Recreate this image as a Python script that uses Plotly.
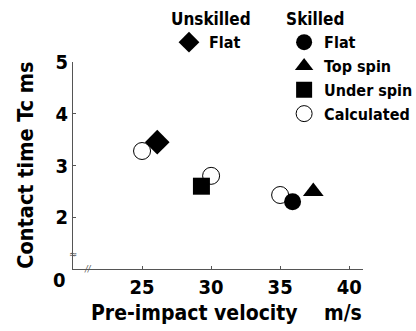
import plotly.graph_objects as go

FONT = "DejaVu Sans Condensed, Liberation Sans Narrow, Arial Narrow, sans-serif"

# data
calc_x = [25.0, 30.0, 35.0]
calc_y = [3.28, 2.80, 2.43]
unskilled_flat_x = [26.1]
unskilled_flat_y = [3.45]
skilled_flat_x = [35.9]
skilled_flat_y = [2.30]
top_spin_x = [37.4]
top_spin_y = [2.50]
under_spin_x = [29.3]
under_spin_y = [2.60]

x_ticks = [25, 30, 35, 40]
y_ticks = [2, 3, 4, 5]

fig = go.Figure()

fig.add_trace(go.Scatter(
    x=calc_x, y=calc_y, mode="markers", name="Calculated", legend="legend2", legendrank=4,
    showlegend=True,
    marker=dict(symbol="circle", size=17, color="white", line=dict(color="black", width=1))))
fig.add_trace(go.Scatter(
    x=unskilled_flat_x, y=unskilled_flat_y, mode="markers", name="Flat", legend="legend",
    showlegend=True,
    marker=dict(symbol="diamond", size=19, color="black")))
fig.add_trace(go.Scatter(
    x=under_spin_x, y=under_spin_y, mode="markers", name="Under spin", legend="legend2", legendrank=3,
    showlegend=True,
    marker=dict(symbol="square", size=17, color="black")))
fig.add_trace(go.Scatter(
    x=skilled_flat_x, y=skilled_flat_y, mode="markers", name="Flat", legend="legend2", legendrank=1,
    showlegend=True,
    marker=dict(symbol="circle", size=17, color="black")))
fig.add_trace(go.Scatter(
    x=top_spin_x, y=top_spin_y, mode="markers", name="Top spin", legend="legend2", legendrank=2,
    showlegend=True,
    marker=dict(symbol="triangle-up", size=18, color="black")))

axis_common = dict(showgrid=False, zeroline=False, showline=True, linecolor="#555", linewidth=1,
                   ticks="inside", ticklen=3, tickcolor="#555",
                   tickfont=dict(family=FONT, size=20, color="black", weight="bold"))

LEG_FONT = dict(family=FONT, size=16, weight="bold", color="black")
TITLE_FONT = dict(family=FONT, size=17, weight="bold", color="black")

fig.update_layout(
    width=416, height=331,
    margin=dict(l=73, r=53, t=62, b=62, autoexpand=False),
    paper_bgcolor="white", plot_bgcolor="white",
    font=dict(family=FONT, color="black"),
    showlegend=True,
    xaxis=dict(range=[20, 41], tickvals=x_ticks, **axis_common),
    yaxis=dict(range=[1, 5], tickvals=y_ticks, **axis_common),
    legend=dict(title=dict(text="Unskilled", font=TITLE_FONT),
                x=0.331, y=1.284, xanchor="left", yanchor="top",
                font=LEG_FONT, bgcolor="rgba(0,0,0,0)"),
    legend2=dict(title=dict(text="Skilled", font=TITLE_FONT),
                 x=0.728, y=1.284, xanchor="left", yanchor="top",
                 font=LEG_FONT, bgcolor="rgba(0,0,0,0)"),
    annotations=[
        dict(text="Contact time Tc ms", xref="paper", yref="paper", x=-0.165, y=0.5,
             xanchor="center", yanchor="middle",
             textangle=-90, showarrow=False, font=dict(family=FONT, size=21.5, weight="bold")),
        dict(text="Pre-impact velocity\u00a0\u00a0\u00a0\u00a0m/s", xref="paper", yref="paper",
             x=0.528, y=-0.213, xanchor="center", yanchor="middle",
             showarrow=False, font=dict(family=FONT, size=21, weight="bold")),
        dict(text="0", xref="paper", yref="paper", x=-0.045, y=-0.053,
             xanchor="center", yanchor="middle", showarrow=False,
             font=dict(family=FONT, size=20, weight="bold")),
        dict(text="\u2248", xref="paper", yref="paper", x=0, y=0.072,
             xanchor="center", yanchor="middle", showarrow=False,
             font=dict(family=FONT, size=11, color="#555")),
        dict(text="//", xref="paper", yref="paper", x=0.052, y=0,
             xanchor="center", yanchor="middle", showarrow=False,
             font=dict(family=FONT, size=9, color="#555", style="italic")),
    ],
)

fig.write_html("out.html")
